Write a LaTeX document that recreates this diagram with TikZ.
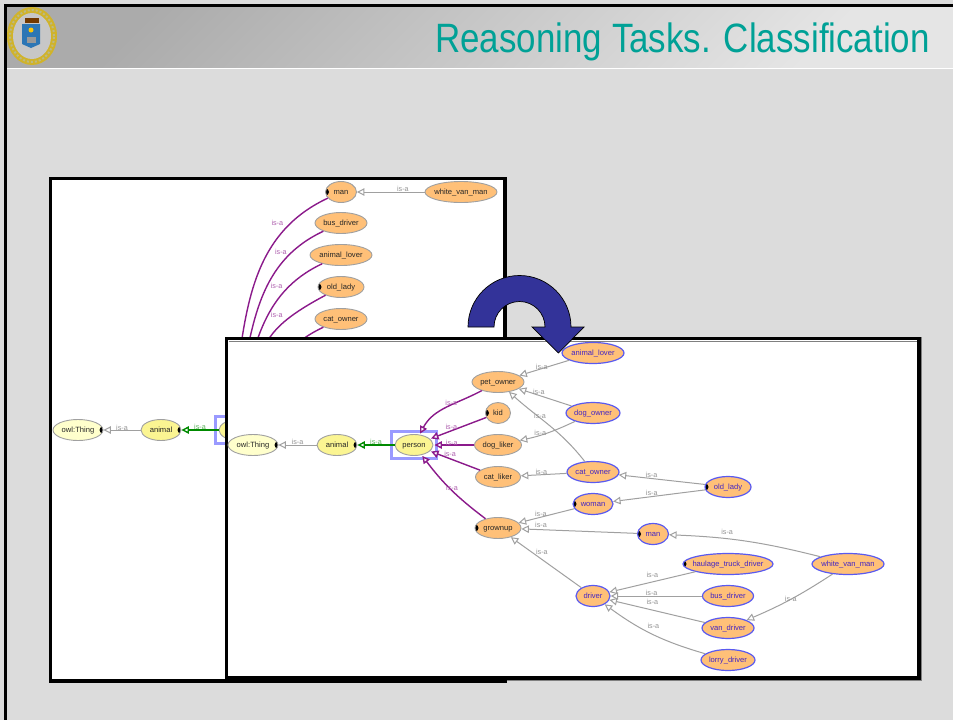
\documentclass[tikz,border=0pt]{standalone}
\usepackage{fontspec}
\setmainfont{Liberation Sans}
\usetikzlibrary{%
  arrows.meta,%
  shapes.geometric,% wg. ellipse
  positioning%
}
\definecolor{slidegray}{HTML}{DCDCDC}
\definecolor{titleteal}{HTML}{00A196}
\definecolor{peach}{HTML}{FFC078}
\definecolor{edgegray}{HTML}{A0A0A0}
\definecolor{isapurple}{HTML}{8B1A8B}
\definecolor{isagreen}{HTML}{008A00}
\definecolor{selblue}{HTML}{5A5AF0}
\definecolor{boxblue}{HTML}{9A9AFF}
\definecolor{inktext}{HTML}{4325C4}
\definecolor{turnblue}{HTML}{333399}
\definecolor{paleyellow}{HTML}{FFFFCC}
\definecolor{lemonyellow}{HTML}{FBF592}
\tikzset{
  cls/.style={ellipse,draw=edgegray,line width=0.9pt,fill=peach,inner sep=0pt,
    minimum height=21pt,font=\fontsize{7.6}{8}\selectfont,text=black!85,
    text height=5pt,text depth=0pt,
    execute at begin node={\hbox to 0pt\bgroup\hss},execute at end node={\hss\egroup}},
  inferred/.style={cls,draw=selblue,line width=1.2pt,text=inktext},
  pale/.style={cls,fill=paleyellow},
  lemon/.style={cls,fill=lemonyellow},
  dotw/.style={path picture={\fill[black] (path picture bounding box.west) circle (3.5pt);}},
  dote/.style={path picture={\fill[black] (path picture bounding box.east) circle (3.5pt);}},
  panel/.style={draw=black,line width=3.8pt,fill=white},
  selbox/.style={rectangle,draw=boxblue,line width=2.2pt,minimum width=45pt,minimum height=27pt},
  isa/.style={font=\fontsize{7.2}{8}\selectfont,text=gray!85,inner sep=0pt},
  isap/.style={isa,text=isapurple!70!white},
  isag/.style={isa,text=isagreen!65!white},
  grayedge/.style={draw=edgegray,line width=1pt},
  purpleedge/.style={draw=isapurple,line width=1.4pt,shorten >=1pt},
  greenedge/.style={draw=isagreen,line width=1.4pt}
}
\begin{document}
\begin{tikzpicture}[x=1pt,y=1pt,on grid,->,>={Triangle[open,fill=white,length=7.5pt,width=7.5pt]}]
  \useasboundingbox (0,0) rectangle (953,-720);
  %slide
  \fill[slidegray] (0,0) rectangle (953,-720);
  \shade[top color=black!33,bottom color=black!10,shading angle=45,draw=none] (6,-6) rectangle (953,-68);
  \draw[-,white,line width=1pt] (6,-68) -- (953,-68);
  \draw[-,black,line width=2.8pt] (5.4,-720) -- (5.4,-5.4) -- (953,-5.4);
  \node[anchor=base east,text=titleteal,inner sep=0pt] (title) at (930,-52)
    {\scalebox{0.852}[1]{\fontsize{41}{44}\selectfont Reasoning Tasks. Classification}};

  %logo
  \fill[fill=yellow!70!orange!80!black] (32,-36) ellipse (25pt and 29pt);
  \fill[fill=black!22] (32,-36) ellipse (19pt and 23pt);
  \draw[-,yellow!50!black!60,dotted,line width=2pt] (32,-36) ellipse (22pt and 26pt);
  \fill[fill=black!55!orange] (25,-23) rectangle (39,-18);
  \fill[fill=cyan!60!blue!85!black] (22,-24) -- (40,-24) -- (40,-44) -- (31,-48) -- (22,-44) -- cycle;
  \fill[fill=yellow!60!orange] (31,-30) circle (2.5pt);
  \fill[fill=black!40] (27,-37) rectangle (36,-43);

  %back window
  \draw[panel] (50.5,-178.5) rectangle (505,-681);
  \node[pale, dote, minimum width=50pt] (b_owl_thing) at (78,-430) {owl:Thing};
  \node[lemon, dote, minimum width=40pt] (b_animal) [right=83pt of b_owl_thing] {animal};
  \node[lemon, minimum width=38pt] (b_person) [right=77pt of b_animal] {person};
  \node[selbox] (b_selbox) at (b_person) {};
  \node[cls, dotw, minimum width=31pt] (b_man) [above right=238pt and 103pt of b_person] {man};
  \node[cls, minimum width=72pt] (b_white_van_man) [right=120pt of b_man] {white\_van\_man};
  \node[cls, minimum width=52pt] (b_bus_driver) [below=31pt of b_man] {bus\_driver};
  \node[cls, minimum width=62pt] (b_animal_lover) [below=32pt of b_bus_driver] {animal\_lover};
  \node[cls, dotw, minimum width=46pt] (b_old_lady) [below=32pt of b_animal_lover] {old\_lady};
  \node[cls, minimum width=52pt] (b_cat_owner) [below=32pt of b_old_lady] {cat\_owner};
  \path
  (b_animal) edge[grayedge] node[isa,pos=.5,yshift=2pt] {is-a} (b_owl_thing)
  (b_person) edge[greenedge] node[isag,pos=.5,yshift=3pt] {is-a} (b_animal)
  (b_white_van_man) edge[grayedge] node[isa,pos=.32,yshift=3pt] {is-a} (b_man)
  (b_man) edge[purpleedge,out=205,in=80] node[isap,pos=.17,xshift=-14pt] {is-a} (b_person.130)
  (b_bus_driver) edge[purpleedge,out=205,in=75] node[isap,pos=.17,xshift=-11pt] {is-a} (b_person.120)
  (b_animal_lover) edge[purpleedge,out=205,in=75] node[isap,pos=.21,xshift=-13pt] {is-a} (b_person.100)
  (b_old_lady) edge[purpleedge,out=208,in=70,looseness=1.3] node[isap,pos=.2,xshift=-16pt] {is-a} (b_person.90)
  (b_cat_owner) edge[purpleedge,out=205,in=60] (b_person);

  %front window
  \draw[panel] (226.5,-338.5) rectangle (919,-678);
  \draw[-,black!50,line width=0.8pt] (228.5,-341) -- (917,-341) (921.3,-337) -- (921.3,-680.4) -- (507,-680.4);
  \node[pale, dote, minimum width=50pt] (owl_thing) at (253,-445) {owl:Thing};
  \node[lemon, dote, minimum width=40pt] (animal) [right=84pt of owl_thing] {animal};
  \node[lemon, minimum width=38pt] (person) [right=77pt of animal] {person};
  \node[selbox] (selbox) at (person) {};
  \node[cls, minimum width=52pt] (pet_owner) [above right=63pt and 84pt of person] {pet\_owner};
  \node[cls, dotw, minimum width=25pt] (kid) [below=31pt of pet_owner] {kid};
  \node[cls, minimum width=47pt] (dog_liker) [below=32pt of kid] {dog\_liker};
  \node[cls, minimum width=45pt] (cat_liker) [below=32pt of dog_liker] {cat\_liker};
  \node[cls, dotw, minimum width=46pt] (grownup) [below=51pt of cat_liker] {grownup};
  \node[inferred, minimum width=62pt] (animal_lover) [above right=29pt and 95pt of pet_owner] {animal\_lover};
  \node[inferred, minimum width=54pt] (dog_owner) [below=60pt of animal_lover] {dog\_owner};
  \node[inferred, minimum width=52pt] (cat_owner) [below=59pt of dog_owner] {cat\_owner};
  \node[inferred, dotw, minimum width=40pt] (woman) [below=32pt of cat_owner] {woman};
  \node[inferred, dotw, minimum width=31pt] (man) [below right=30pt and 60pt of woman] {man};
  \node[inferred, dotw, minimum width=46pt] (old_lady) [above right=17pt and 135pt of woman] {old\_lady};
  \node[inferred, minimum width=34pt] (driver) [below=92pt of woman] {driver};
  \node[inferred, minimum width=51pt] (bus_driver) [right=135pt of driver] {bus\_driver};
  \node[inferred, dotw, minimum width=90pt] (haulage_truck_driver) [above=32pt of bus_driver] {haulage\_truck\_driver};
  \node[inferred, minimum width=52pt] (van_driver) [below=32pt of bus_driver] {van\_driver};
  \node[inferred, minimum width=54pt] (lorry_driver) [below=32pt of van_driver] {lorry\_driver};
  \node[inferred, minimum width=72pt] (white_van_man) [right=120pt of haulage_truck_driver] {white\_van\_man};

  \path
  (animal) edge[grayedge] node[isa,pos=.5,yshift=3pt] {is-a} (owl_thing)
  (person) edge[greenedge] node[isag,pos=.5,yshift=3pt] {is-a} (animal)
  %subclasses of person
  (pet_owner) edge[purpleedge,out=208,in=62] node[isap,pos=.42,yshift=2pt] {is-a} (person)
  (kid) edge[purpleedge] node[isap,pos=.62,yshift=4pt] {is-a} (person)
  (dog_liker) edge[purpleedge] node[isap,pos=.55,yshift=2pt] {is-a} (person)
  (cat_liker) edge[purpleedge] node[isap,pos=.6,yshift=5pt] {is-a} (person)
  (grownup) edge[purpleedge,bend left=8] node[isap,pos=.5,xshift=1pt,yshift=2pt] {is-a} (person)
  %pet owners
  (animal_lover) edge[grayedge] node[isa,pos=.55,yshift=2pt] {is-a} (pet_owner)
  (dog_owner) edge[grayedge] node[isa,pos=.62,yshift=3pt] {is-a} (pet_owner)
  (cat_owner) edge[grayedge,out=128,in=-42] node[isa,pos=.62,yshift=2pt] {is-a} (pet_owner)
  (dog_owner) edge[grayedge,out=205,in=12] node[isa,pos=.65,yshift=2pt] {is-a} (dog_liker)
  (cat_owner) edge[grayedge] node[isa,pos=.55,yshift=3pt] {is-a} (cat_liker)
  (old_lady) edge[grayedge] node[isa,pos=.62,yshift=4pt] {is-a} (cat_owner)
  (old_lady) edge[grayedge] node[isa,pos=.58,yshift=4pt] {is-a} (woman)
  %grownups
  (woman) edge[grayedge] node[isa,pos=.6,yshift=3pt] {is-a} (grownup)
  (man) edge[grayedge] node[isa,pos=.83,yshift=5pt] {is-a} (grownup)
  (driver) edge[grayedge] node[isa,pos=.56,yshift=7pt] {is-a} (grownup)
  (white_van_man) edge[grayedge,bend right=6] node[isa,pos=.63,yshift=7pt] {is-a} (man)
  (white_van_man) edge[grayedge,bend left=5] node[isa,pos=.5] {is-a} (van_driver)
  %drivers
  (haulage_truck_driver) edge[grayedge] node[isa,pos=.5,yshift=7pt] {is-a} (driver)
  (bus_driver) edge[grayedge] node[isa,pos=.55,yshift=3pt] {is-a} (driver)
  (van_driver) edge[grayedge] node[isa,pos=.55,yshift=8pt] {is-a} (driver)
  (lorry_driver) edge[grayedge,bend left=10] node[isa,pos=.49,yshift=9pt] {is-a} (driver);

  %turn arrow
  \draw[-,black,line width=0.7pt,fill=turnblue] (468,-327) arc[start angle=180,end angle=0,radius=51.5pt]
    -- (584,-327) -- (558.5,-353) -- (532,-327) -- (545,-327)
    arc[start angle=0,end angle=180,radius=25.5pt] -- cycle;
\end{tikzpicture}
\end{document}
